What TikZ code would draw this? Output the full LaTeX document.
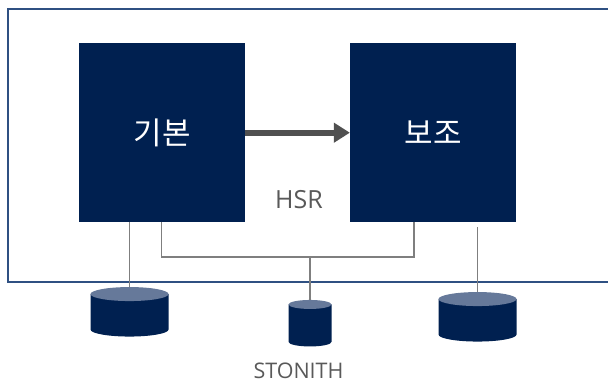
\documentclass[tikz,border=0pt]{standalone}
\usepackage{fontspec}
\setmainfont{Open Sans}
\newfontfamily\krfont{Noto Sans CJK KR}
\usepackage{tikz}
\usetikzlibrary{positioning,arrows.meta}
\definecolor{NAVY_COLOR}{HTML}{002050}
\definecolor{FRAME_COLOR}{HTML}{2F5082}
\definecolor{DISK_TOP_COLOR}{HTML}{66799A}
\definecolor{LINK_COLOR}{HTML}{7F7F7F}
\definecolor{ARROW_COLOR}{HTML}{505050}
\definecolor{LABEL_COLOR}{HTML}{595959}
\tikzstyle{site} = [rectangle, fill=NAVY_COLOR, text=white, inner sep=0pt, minimum width=166pt, minimum height=179pt]
\tikzset{
  disk/.style n args={3}{rectangle, inner sep=0pt, outer sep=0pt, minimum width=2*#1 pt, minimum height=2*#2 pt,
    path picture={
      \begin{scope}[shift={(path picture bounding box.center)}]
        \fill[NAVY_COLOR] (-#1,-#2+#3) -- (-#1,#2-#3) arc[start angle=180, end angle=360, x radius=#1pt, y radius=#3pt] -- (#1,-#2+#3) -- cycle;
        \fill[DISK_TOP_COLOR] (0,-#2+#3) ellipse[x radius=#1pt, y radius=#3pt];
      \end{scope}
    }}
}
\tikzstyle{big_disk} = [disk={39}{24.75}{7}]
\tikzstyle{small_disk} = [disk={21.5}{23.25}{4.5}]
\tikzstyle{link} = [draw=LINK_COLOR, line width=1.5pt]
\tikzstyle{tag} = [text=LABEL_COLOR, inner sep=0pt]
\begin{document}
\begin{tikzpicture}[x=1pt, y=-1pt, node distance = 104.5pt and 104.5pt]
      \useasboundingbox (0,0) rectangle (608,383);

      % outer frame, open on the right
      \coordinate (FT) at (608,9);
      \coordinate (FL) at (8,9);
      \coordinate (FB) at (608,282);
      \draw[FRAME_COLOR, line width=1.2pt] (FT) -- (FL) |- (FB);

      \node[site, below right= 34pt and 71pt of FL, anchor=north west] (PRI) {\raisebox{-3.5pt}{\krfont\fontsize{31}{31}\selectfont 기본}};
      \node[site, right= of PRI] (SEC) {\raisebox{-3.5pt}{\krfont\fontsize{31}{31}\selectfont 보조}};

      %%%%%%%%%%%%%%%%%%%%%%%%%%%%%%%%%%%%%%%%%%%%%%%%%
      % DISKS
      %%%%%%%%%%%%%%%%%%%%%%%%%%%%%%%%%%%%%%%%%%%%%%%%%
      \node[big_disk] (D1) at (129.5,311.8) {};
      \node[small_disk] (D2) at (310,323.2) {};
      \node[big_disk] (D3) at (477.5,316.8) {};

      \node[tag, font=\fontsize{25}{25}\selectfont] (HSR) at (299,200) {HSR};
      \node[tag, font=\fontsize{21.5}{21.5}\selectfont, below= 16pt of D2, xshift=-11.5pt] (STN) {STONITH};

      % replication
      \draw[ARROW_COLOR, line width=6pt, -{Triangle[length=16pt,width=19pt]}] (PRI) -- (SEC);

      % links
      \coordinate (L1) at (161.5,257);
      \coordinate (L2) at (414,257);
      \coordinate (L3) at (477.5,227);
      \coordinate (L4) at (310,257);
      \draw[link] (PRI.south -| D1) -- (D1.north);
      \draw[link] (PRI.south -| L1) -- (L1) -- (L2) -- (SEC.south -| L2);
      \draw[link] (L4) -- (D2.north);
      \draw[link] (L3) -- (D3.north);
\end{tikzpicture}
\end{document}
